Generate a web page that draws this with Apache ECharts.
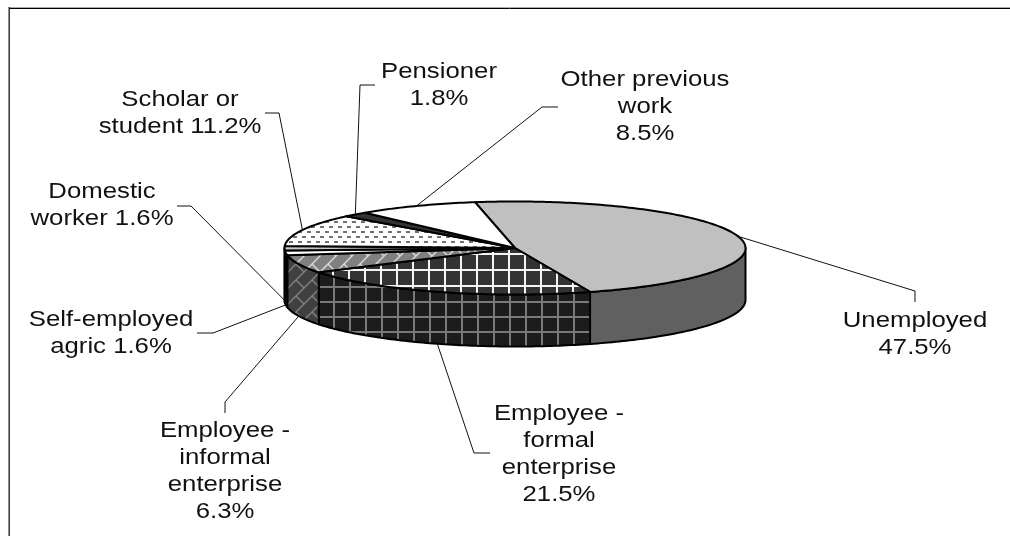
<!DOCTYPE html>
<html>
<head>
<meta charset="utf-8">
<style>html,body{margin:0;padding:0;background:#fff}#main{width:1010px;height:536px}</style>
<script src="https://cdn.jsdelivr.net/npm/echarts@6/dist/echarts.min.js"></script>
</head>
<body>
<div id="main"></div>
<script>
// ---- data ----
var categories = ['Unemployed', 'Employee - formal enterprise', 'Employee - informal enterprise',
  'Self-employed agric', 'Domestic worker', 'Scholar or student', 'Pensioner', 'Other previous work'];
var shares = [47.5, 21.5, 6.3, 1.6, 1.6, 11.2, 1.8, 8.5];
var labelLines = ['Unemployed\n', 'Employee -\nformal\nenterprise\n', 'Employee -\ninformal\nenterprise\n',
  'Self-employed\nagric ', 'Domestic\nworker ', 'Scholar or\nstudent ', 'Pensioner\n', 'Other previous\nwork\n'];

// ---- layout ----
var CX = 515, CY = 248, RX = 230.5, RY = 46.5, DEPTH = 52, START = -10;
var labelPos = [[915,334],[559,454],[225,471],[111,333],[102,205],[180,113],[439,85],[645,107]];
var elbows = [
  [[915,291],[915,302]],
  [[474,453],[490,453]],
  [[225,402],[225,413]],
  [[213,333],[197,333]],
  [[191,206],[177,206]],
  [[279,113],[265,113]],
  [[360,85],[375,85]],
  [[542,107],[558,107]]
];
// which face the leader touches: top rim (0) or bottom of the wall (1)
var leaderOnWall = [0,1,1,1,1,0,0,0];

// ---- patterns ----
function tile(w, h, draw) {
  var c = document.createElement('canvas'); c.width = w; c.height = h;
  draw(c.getContext('2d'), w, h);
  return { image: c, repeat: 'repeat' };
}
function grid(bg, fg, w, h, ox, oy) {
  return tile(w, h, function (g) {
    g.fillStyle = bg; g.fillRect(0, 0, w, h);
    g.fillStyle = fg; g.fillRect(ox, 0, 2, h); g.fillRect(0, oy, w, 2);
  });
}
function brick(bg, fg, T) {
  return tile(T, T, function (g) {
    g.fillStyle = bg; g.fillRect(0, 0, T, T);
    g.strokeStyle = fg; g.lineWidth = 1.5;
    g.beginPath();
    g.moveTo(-2, T + 2); g.lineTo(T + 2, -2);
    g.moveTo(-2, 2); g.lineTo(2, -2);
    g.moveTo(T - 2, T + 2); g.lineTo(T + 2, T - 2);
    g.moveTo(T / 2, T / 2); g.lineTo(T, T);
    g.stroke();
  });
}
var dots = tile(18, 10, function (g) {
  g.fillStyle = '#fff'; g.fillRect(0, 0, 18, 10);
  g.fillStyle = '#707070';
  g.fillRect(1, 1, 4, 2); g.fillRect(10, 1, 4, 2);
  g.fillRect(5, 6, 4, 2); g.fillRect(14, 6, 4, 2);
});
var topFill = ['#c0c0c0', grid('#333333', '#f4f4f4', 16, 16, 12, 13), brick('#808080', '#d8d8d8', 16),
  '#ffffff', '#c8c8c8', dots, '#333333', '#ffffff'];
var sideFill = ['#606060', grid('#1c1c1c', '#7a7a7a', 16, 15, 13, 1), brick('#404040', '#808080', 16),
  '#111111', '#111111', '#111111', '#111111', '#111111'];

// ---- geometry from the values ----
var starts = [], acc = START;
var total = shares.reduce(function (a, b) { return a + b; }, 0);
shares.forEach(function (v) { starts.push(acc); acc += v / total * 360; });

function rim(t, dy) {
  var a = t * Math.PI / 180;
  return [CX + RX * Math.sin(a), CY - RY * Math.cos(a) + (dy || 0)];
}
function arc(a0, a1, dy) {
  var pts = [], n = Math.max(2, Math.ceil(Math.abs(a1 - a0)));
  for (var k = 0; k <= n; k++) pts.push(rim(a0 + (a1 - a0) * k / n, dy));
  return pts;
}

function renderItem(params, api) {
  var i = params.dataIndex;
  var a0 = starts[i], a1 = a0 + api.value(1) / total * 360, mid = (a0 + a1) / 2;
  var children = [];
  var s0 = Math.max(a0, 90), s1 = Math.min(a1, 270);
  if (s1 > s0) {
    children.push({
      type: 'polygon', z2: 1,
      shape: { points: arc(s0, s1, 0).concat(arc(s1, s0, DEPTH)) },
      style: { fill: sideFill[i], stroke: '#000', lineWidth: 2, lineJoin: 'round' }
    });
  }
  children.push({
    type: 'polygon', z2: 2,
    shape: { points: [[CX, CY]].concat(arc(a0, a1, 0)) },
    style: { fill: topFill[i], stroke: '#000', lineWidth: 2, lineJoin: 'round' }
  });
  children.push({
    type: 'polyline', z2: 3,
    shape: { points: [rim(mid, leaderOnWall[i] ? DEPTH : 0)].concat(elbows[i]) },
    style: { fill: null, stroke: '#111', lineWidth: 1 }
  });
  children.push({
    type: 'text', z2: 4,
    x: labelPos[i][0], y: labelPos[i][1], scaleX: 1.17,
    style: {
      text: labelLines[i] + api.value(1).toFixed(1) + '%',
      fontFamily: '"Liberation Sans"', fontSize: 22, lineHeight: 27,
      fill: '#111', align: 'center', verticalAlign: 'middle'
    }
  });
  return { type: 'group', children: children };
}

var chart = echarts.init(document.getElementById('main'), null, { renderer: 'canvas' });
chart.setOption({
  animation: false,
  backgroundColor: '#fff',
  graphic: [
    { type: 'line', shape: { x1: 9, y1: 7.5, x2: 1010, y2: 7.5 }, style: { stroke: '#aaa', lineWidth: 1 } },
    { type: 'line', shape: { x1: 9, y1: 8.5, x2: 1010, y2: 8.5 }, style: { stroke: '#000', lineWidth: 1 } },
    { type: 'line', shape: { x1: 9.2, y1: 7, x2: 9.2, y2: 536 }, style: { stroke: '#333', lineWidth: 1.5 } }
  ],
  series: [{
    type: 'custom',
    coordinateSystem: 'none',
    silent: true,
    renderItem: renderItem,
    encode: { value: 1, itemName: 2 },
    data: shares.map(function (v, i) { return [i, v, categories[i]]; })
  }]
});
</script>
</body>
</html>
